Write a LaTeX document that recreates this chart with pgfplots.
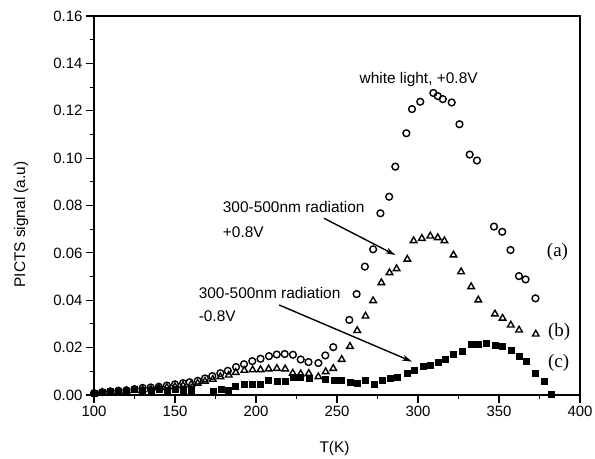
\documentclass[border=0pt]{standalone}
\usepackage{pgfplots}
\pgfplotsset{compat=1.18}
\usepackage{pgfplotstable}
\usepackage{fontspec}
\setmainfont{Liberation Sans}
\newfontfamily\seriffont{Liberation Serif}
\usetikzlibrary{arrows.meta}

\pgfplotstableread{
x y
100 0.0008
105 0.0012
110 0.0015
115 0.0018
120 0.0020
125 0.0025
130 0.0030
135 0.0032
140 0.0035
145 0.0040
150 0.0045
155 0.0050
159 0.0054
164 0.0060
168.5 0.0070
173 0.0080
178 0.0092
182.6 0.0102
187.7 0.0118
192.6 0.0130
197.7 0.0143
202.8 0.0153
208 0.0164
212.8 0.0171
217.7 0.0173
222.8 0.0170
227.6 0.0150
232.4 0.0139
238.5 0.0135
242.8 0.0167
247.7 0.0202
257.6 0.0317
262.1 0.0426
267.2 0.0542
272.3 0.0615
276.8 0.0767
282.2 0.0837
286.0 0.0964
292.8 0.1105
296.3 0.1207
301.4 0.1238
309.5 0.1275
312.2 0.1262
315.3 0.1249
320.8 0.1235
325.6 0.1143
331.9 0.1015
336.4 0.0990
346.9 0.0711
352.0 0.0689
357.1 0.0612
362.3 0.0502
366.4 0.0488
372.5 0.0408
}\seriesA

\pgfplotstableread{
x y
100 0.0008
105 0.0010
110 0.0012
115 0.0015
120 0.0018
125 0.0020
130 0.0022
135 0.0025
140 0.0030
145 0.0032
150 0.0035
155 0.0040
160 0.0045
164 0.0050
168.5 0.0058
173.3 0.0066
178 0.0077
183.2 0.0084
187.5 0.0095
192.8 0.0104
197.9 0.0106
202.8 0.0107
207.8 0.0110
212.9 0.0112
218 0.0110
222.7 0.0092
227.6 0.0089
232.6 0.0091
238.5 0.0077
243 0.0098
247.7 0.0112
252.9 0.0150
258 0.0205
262.5 0.0272
267.6 0.0333
272.3 0.0398
277.4 0.0474
282.4 0.0516
286.8 0.0533
293.4 0.0573
297.3 0.0651
302.4 0.0661
307.6 0.0671
312.2 0.0664
316.3 0.0651
321.9 0.0591
326.6 0.0520
332.8 0.0457
337.2 0.0401
347.5 0.0342
352.2 0.0324
357.3 0.0295
362.4 0.0274
372.7 0.0257
}\seriesB

\pgfplotstableread{
x y
100 0.0008
105 0.0012
110 0.0015
115 0.0015
120 0.0018
125 0.0025
130 0.0020
135 0.0022
140 0.0025
145 0.0020
150 0.0025
155 0.0018
160 0.0020
173.3 0.0014
178.5 0.0025
182.6 0.0021
187.3 0.0038
192.8 0.0045
197.9 0.0045
202.6 0.0047
207.7 0.0063
212.9 0.0059
218 0.0060
223.1 0.0077
227.5 0.0075
232.8 0.0073
243 0.0066
248.1 0.0063
252.8 0.0063
258 0.0056
262.5 0.0049
267.6 0.0061
272.7 0.0047
277.8 0.0063
283 0.0069
287 0.0077
293.6 0.0094
297.9 0.0103
303 0.0120
307.6 0.0127
312.7 0.0138
316.8 0.0152
321.9 0.0172
327 0.0187
332.8 0.0215
337.2 0.0215
342.3 0.0218
347.5 0.0211
352.2 0.0204
357.3 0.0190
362.3 0.0162
366.9 0.0141
372.5 0.0092
377.6 0.0059
382.3 0.0004
}\seriesC

\begin{document}
\begin{tikzpicture}
\path[use as bounding box] (-94bp,-64bp) rectangle (501bp,395bp);
\begin{axis}[
  at={(0,0)}, anchor=south west,
  width=486bp, height=379bp, scale only axis,
  xmin=100, xmax=400, ymin=0, ymax=0.16,
  xtick={100,150,...,400},
  ytick={0,0.02,...,0.16},
  minor x tick num=1, minor y tick num=1,
  tick pos=left, tick align=outside,
  major tick length=8bp, minor tick length=4bp,
  every tick/.style={line width=1.1bp, black},
  axis line style={line width=1.1bp},
  scaled y ticks=false,
  /pgf/number format/assume math mode=true,
  yticklabel style={/pgf/number format/.cd, fixed, fixed zerofill, precision=2},
  tick label style={font=\fontsize{15}{15}\selectfont},
  xlabel={T(K)}, ylabel={PICTS signal (a.u)},
  label style={font=\fontsize{15.5}{15.5}\selectfont},
  xlabel style={at={(axis description cs:0.495,-0.142)}, anchor=center},
  ylabel style={at={(axis description cs:-0.15,0.45)}, anchor=center},
  clip=false,
]
\addplot[only marks, mark=o, mark size=3.4bp, line width=1.4bp, black] table {\seriesA};
\addplot[only marks, mark=triangle, mark size=3.8bp, line width=1.4bp, black] table {\seriesB};
\addplot[only marks, mark=square*, mark size=3bp, black] table {\seriesC};

\node[font=\fontsize{15.5}{15.5}\selectfont] at (axis cs:300.4,0.133) {white light, +0.8V};
\node[anchor=west, font=\fontsize{15.5}{15.5}\selectfont] at (axis cs:177.4,0.0793) {300-500nm radiation};
\node[anchor=west, font=\fontsize{15.5}{15.5}\selectfont] at (axis cs:177.4,0.0689) {+0.8V};
\node[anchor=west, font=\fontsize{15.5}{15.5}\selectfont] at (axis cs:162.5,0.0429) {300-500nm radiation};
\node[anchor=west, font=\fontsize{15.5}{15.5}\selectfont] at (axis cs:162.5,0.0331) {-0.8V};
\draw[line width=1.4bp, -{Stealth[length=10bp,width=6bp]}] (axis cs:242,0.0746) -- (axis cs:286,0.0591);
\draw[line width=1.4bp, -{Stealth[length=10bp,width=6bp]}] (axis cs:214.3,0.0380) -- (axis cs:296.3,0.0141);
\node[anchor=west, font=\seriffont\fontsize{19}{19}\selectfont, inner sep=0pt] at (axis cs:379.5,0.0605) {(a)};
\node[anchor=west, font=\seriffont\fontsize{19}{19}\selectfont, inner sep=0pt] at (axis cs:380.2,0.0267) {(b)};
\node[anchor=west, font=\seriffont\fontsize{19}{19}\selectfont, inner sep=0pt] at (axis cs:380.2,0.0136) {(c)};
\end{axis}
\end{tikzpicture}
\end{document}
